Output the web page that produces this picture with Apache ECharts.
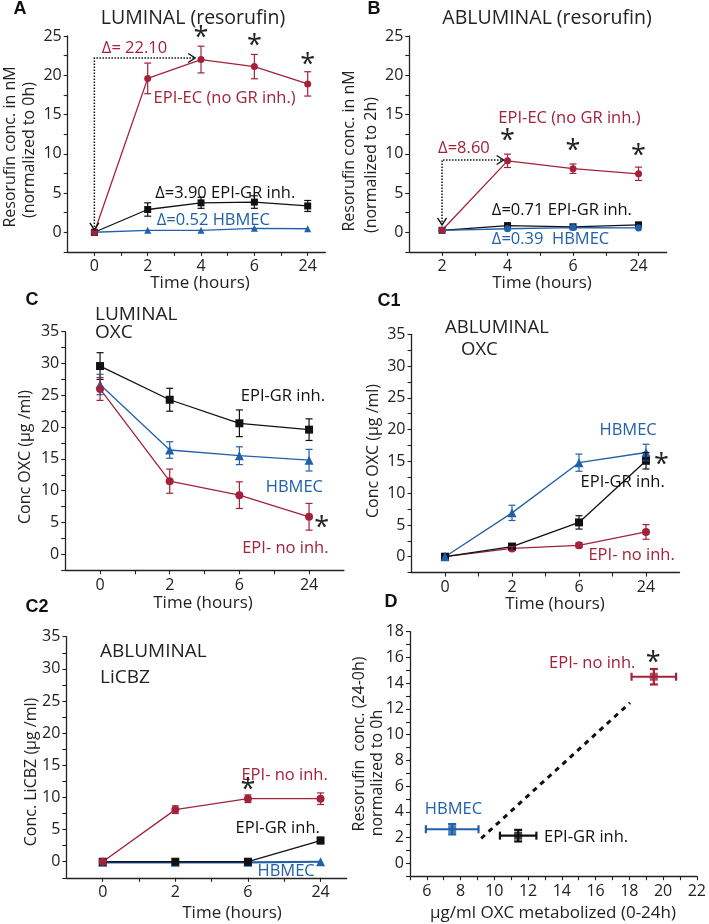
<!DOCTYPE html>
<html><head><meta charset="utf-8">
<script src="https://cdn.jsdelivr.net/npm/echarts@6/dist/echarts.min.js"></script>
<style>html,body{margin:0;padding:0;background:#fff}#c{width:709px;height:924px}</style>
</head><body><div id="c"></div>
<script>
// ---------- DATA ----------
// Panel A: LUMINAL resorufin (normalized to 0h)
const timesA = ['0', '2', '4', '6', '24'];
const A_epiEC = [0, 19.6, 22.0, 21.1, 18.9];
const A_epiECErr = [0, 1.95, 1.7, 1.55, 1.55];
const A_epiGR = [0, 2.9, 3.75, 3.85, 3.35];
const A_epiGRErr = [0, 0.85, 0.7, 0.8, 0.7];
const A_hbmec = [0, 0.25, 0.25, 0.5, 0.45];
// Panel B: ABLUMINAL resorufin (normalized to 2h)
const timesB = ['2', '4', '6', '24'];
const B_epiEC = [0.25, 9.1, 8.1, 7.45];
const B_epiECErr = [0, 0.85, 0.6, 0.85];
const B_epiGR = [0.25, 0.85, 0.7, 0.95];
const B_hbmec = [0.25, 0.45, 0.6, 0.55];
// Panel C: LUMINAL OXC
const timesC = ['0', '2', '6', '24'];
const C_epiGR = [29.6, 24.3, 20.6, 19.6];
const C_epiGRErr = [2.1, 1.8, 2.1, 1.7];
const C_hbmec = [26.7, 16.4, 15.5, 14.8];
const C_hbmecErr = [1.6, 1.3, 1.4, 1.7];
const C_epiNo = [26.0, 11.5, 9.3, 5.9];
const C_epiNoErr = [1.8, 1.9, 2.1, 2.1];
// Panel C1: ABLUMINAL OXC
const C1_hbmec = [0, 6.9, 14.8, 16.4];
const C1_hbmecErr = [0, 1.2, 1.35, 1.3];
const C1_epiGR = [0, 1.6, 5.4, 15.1];
const C1_epiGRErr = [0, 0.3, 1.05, 1.3];
const C1_epiNo = [0, 1.3, 1.8, 3.9];
const C1_epiNoErr = [0, 0.3, 0.4, 1.15];
// Panel C2: ABLUMINAL LiCBZ
const C2_epiNo = [0, 8.1, 9.8, 9.8];
const C2_epiNoErr = [0, 0.6, 0.6, 0.9];
const C2_epiGR = [0, 0, 0, 3.3];
const C2_epiGRErr = [0, 0, 0, 0.5];
const C2_hbmec = [-0.1, -0.1, -0.1, 0];
// Panel D: resorufin vs OXC metabolized
const D_names = ['HBMEC', 'EPI-GR inh.', 'EPI- no inh.'];
const D_oxc = [7.5, 11.41, 19.45];
const D_oxcErr = [1.56, 1.08, 1.32];
const D_res = [2.65, 2.15, 14.5];
const D_resErr = [0.4, 0.45, 0.6];
const D_fitX = [9.22, 18.04];
const D_fitY = [1.94, 12.48];

// ---------- STYLE ----------
const RED = '#a3223a', BLUE = '#2160aa', BLK = '#111111', TXT = '#222222';
const FONT = '"Open Sans", "DejaVu Sans", sans-serif';

const grids = [
  {left: 67.7, top: 36, width: 257.6, height: 215.9},     // A
  {left: 409.3, top: 36, width: 257.4, height: 215.9},    // B
  {left: 65.2, top: 331.7, width: 278.7, height: 238.5},  // C
  {left: 411.5, top: 334.3, width: 268.0, height: 238.3}, // C1
  {left: 66.4, top: 636.7, width: 280.3, height: 241.1},  // C2
  {left: 410, top: 631.7, width: 289, height: 244.5}      // D
];

function catAxis(gi, cats, max) {
  return {
    type: 'value', gridIndex: gi, min: -0.5, max: max, interval: 0.5,
    axisLine: {show: true, onZero: false, lineStyle: {color: '#222', width: 1.3}},
    axisTick: {show: true, length: 4, lineStyle: {color: '#222', width: 1.1}},
    splitLine: {show: false},
    axisLabel: {
      color: TXT, fontFamily: FONT, fontSize: 16, margin: 7,
      showMinLabel: false, showMaxLabel: false,
      formatter: v => (Math.abs(v - Math.round(v)) < 1e-6 && v >= 0 && v < cats.length) ? cats[Math.round(v)] : ''
    }
  };
}
function valAxis(gi, min, max, interval, every, isX) {
  return {
    type: 'value', gridIndex: gi, min: min, max: max, interval: interval,
    axisLine: {show: true, onZero: false, lineStyle: {color: '#222', width: 1.3}},
    axisTick: {show: true, length: 4, lineStyle: {color: '#222', width: 1.1}},
    splitLine: {show: false},
    axisLabel: {
      color: TXT, fontFamily: FONT, fontSize: 16, margin: isX ? 7 : 6,
      formatter: v => {
        const r = Math.round(v / every) * every;
        return (Math.abs(v - r) < 1e-6 && v >= 0) ? String(r) : '';
      }
    }
  };
}

const xAxes = [
  catAxis(0, timesA, 4.33),
  catAxis(1, timesB, 3.43),
  catAxis(2, timesC, 3.5),
  catAxis(3, timesC, 3.5),
  catAxis(4, timesC, 3.36),
  valAxis(5, 5, 22, 1, 2, true)
];
const yAxes = [
  valAxis(0, -2.5, 25, 2.5, 5),
  valAxis(1, -2.5, 25, 2.5, 5),
  valAxis(2, -2.5, 35, 2.5, 5),
  valAxis(3, -2.5, 35, 2.5, 5),
  valAxis(4, -2.5, 35, 2.5, 5),
  valAxis(5, -1, 18, 1, 2)
];

const series = [];
function idx(vals) { return vals.map((v, i) => [i, v]); }
function lineS(gi, vals, color, symbol, size, lw, z) {
  series.push({
    type: 'line', xAxisIndex: gi, yAxisIndex: gi, data: idx(vals),
    symbol: symbol, symbolSize: size, showSymbol: true, animation: false,
    lineStyle: {color: color, width: lw || 1.3},
    itemStyle: {color: color, borderWidth: 0}, z: z || 3, silent: true
  });
}
function errS(gi, xs, ys, errs, color, horiz, lw, cap) {
  const data = xs.map((x, i) => [x, ys[i], errs[i]]);
  series.push({
    type: 'custom', xAxisIndex: gi, yAxisIndex: gi, data: data, z: 4, silent: true, animation: false,
    encode: {x: 0, y: 1},
    renderItem: (params, api) => {
      const x = api.value(0), y = api.value(1), e = api.value(2);
      if (!e) return null;
      const st = {stroke: color, lineWidth: lw || 1.2, fill: null};
      const c = cap || 3.5;
      let p1, p2, children;
      if (horiz) {
        p1 = api.coord([x - e, y]); p2 = api.coord([x + e, y]);
        children = [
          {type: 'line', shape: {x1: p1[0], y1: p1[1], x2: p2[0], y2: p2[1]}, style: st},
          {type: 'line', shape: {x1: p1[0], y1: p1[1] - c, x2: p1[0], y2: p1[1] + c}, style: st},
          {type: 'line', shape: {x1: p2[0], y1: p2[1] - c, x2: p2[0], y2: p2[1] + c}, style: st}
        ];
      } else {
        p1 = api.coord([x, y - e]); p2 = api.coord([x, y + e]);
        children = [
          {type: 'line', shape: {x1: p1[0], y1: p1[1], x2: p2[0], y2: p2[1]}, style: st},
          {type: 'line', shape: {x1: p1[0] - c, y1: p1[1], x2: p1[0] + c, y2: p1[1]}, style: st},
          {type: 'line', shape: {x1: p2[0] - c, y1: p2[1], x2: p2[0] + c, y2: p2[1]}, style: st}
        ];
      }
      return {type: 'group', children: children};
    }
  });
}
function textS(gi, items) {
  series.push({
    type: 'custom', xAxisIndex: gi, yAxisIndex: gi, z: 10, silent: true, animation: false,
    data: items.map(it => [it.x, it.y]), encode: {x: 0, y: 1},
    renderItem: (params, api) => {
      const it = items[params.dataIndex];
      const p = api.coord([api.value(0), api.value(1)]);
      return {type: 'text', x: p[0], y: p[1] + (it.dy || 0), style: {
        text: it.t, fill: it.c || TXT, align: it.a || 'left', verticalAlign: 'middle',
        font: (it.w || 'normal') + ' ' + (it.s || 16.5) + 'px ' + FONT
      }};
    }
  });
}
function arrowS(gi, cx, cy, by, rx) {
  series.push({
    type: 'custom', xAxisIndex: gi, yAxisIndex: gi, z: 6, silent: true, animation: false,
    data: [[cx, cy, by, rx]], encode: {x: 0, y: 1},
    renderItem: (params, api) => {
      const c = api.coord([api.value(0), api.value(1)]);
      const b = api.coord([api.value(0), api.value(2)]);
      const r = api.coord([api.value(3), api.value(1)]);
      const dot = {stroke: '#111', lineWidth: 1.5, lineDash: [1.5, 1.5], fill: null};
      const sol = {stroke: '#111', lineWidth: 1.4, fill: null};
      return {type: 'group', children: [
        {type: 'polyline', shape: {points: [b, c, r]}, style: dot},
        {type: 'polyline', shape: {points: [[b[0] - 4.5, b[1] - 7], b, [b[0] + 4.5, b[1] - 7]]}, style: sol},
        {type: 'polyline', shape: {points: [[r[0] - 7, r[1] - 4.5], r, [r[0] - 7, r[1] + 4.5]]}, style: sol}
      ]};
    }
  });
}
const STAR = {t: '*', c: '#222', a: 'center', s: 27, dy: 5};

// ---- Panel A ----
lineS(0, A_hbmec, BLUE, 'triangle', 7);
lineS(0, A_epiGR, BLK, 'rect', 7);
lineS(0, A_epiEC, RED, 'circle', 7);
errS(0, [0, 1, 2, 3, 4], A_epiGR, A_epiGRErr, BLK);
errS(0, [0, 1, 2, 3, 4], A_epiEC, A_epiECErr, RED);
arrowS(0, 0, 22.2, 0.3, 1.89);
textS(0, [
  {x: 0.14, y: 23.44, t: 'Δ= 22.10', c: RED},
  {x: 1.11, y: 17.07, t: 'EPI-EC (no GR inh.)', c: RED},
  {x: 1.14, y: 4.97, t: 'Δ=3.90 EPI-GR inh.', c: BLK},
  {x: 1.17, y: 1.57, t: 'Δ=0.52 HBMEC', c: BLUE},
  Object.assign({x: 2, y: 25.35}, STAR),
  Object.assign({x: 3, y: 24.28}, STAR),
  Object.assign({x: 4, y: 21.9}, STAR)
]);

// ---- Panel B ----
lineS(1, B_epiGR, BLK, 'rect', 7);
lineS(1, B_hbmec, BLUE, 'circle', 7);
lineS(1, B_epiEC, RED, 'circle', 7);
errS(1, [0, 1, 2, 3], B_epiEC, B_epiECErr, RED);
arrowS(1, 0, 9.21, 0.93, 0.94);
textS(1, [
  {x: 0.86, y: 14.52, t: 'EPI-EC (no GR inh.)', c: RED},
  {x: -0.06, y: 10.7, t: 'Δ=8.60', c: RED},
  {x: 0.76, y: 2.75, t: 'Δ=0.71 EPI-GR inh.', c: BLK},
  {x: 0.76, y: -0.89, t: 'Δ=0.39  HBMEC', c: BLUE},
  Object.assign({x: 1, y: 12.18}, STAR),
  Object.assign({x: 2, y: 10.9}, STAR),
  Object.assign({x: 3, y: 10.27}, STAR)
]);

// ---- Panel C ----
lineS(2, C_epiGR, BLK, 'rect', 8);
lineS(2, C_hbmec, BLUE, 'triangle', 9);
lineS(2, C_epiNo, RED, 'circle', 8);
errS(2, [0, 1, 2, 3], C_epiGR, C_epiGRErr, BLK);
errS(2, [0, 1, 2, 3], C_hbmec, C_hbmecErr, BLUE);
errS(2, [0, 1, 2, 3], C_epiNo, C_epiNoErr, RED);
textS(2, [
  {x: 2.02, y: 24.8, t: 'EPI-GR inh.', c: BLK},
  {x: 3.2, y: 10.6, t: 'HBMEC', c: BLUE, a: 'right'},
  {x: 3.28, y: 0.94, t: 'EPI- no inh.', c: RED, a: 'right'},
  Object.assign({x: 3.18, y: 4.87}, STAR)
]);

// ---- Panel C1 ----
lineS(3, C1_epiNo, RED, 'circle', 8);
lineS(3, C1_epiGR, BLK, 'rect', 8);
lineS(3, C1_hbmec, BLUE, 'triangle', 9);
errS(3, [0, 1, 2, 3], C1_hbmec, C1_hbmecErr, BLUE);
errS(3, [0, 1, 2, 3], C1_epiGR, C1_epiGRErr, BLK);
errS(3, [0, 1, 2, 3], C1_epiNo, C1_epiNoErr, RED);
textS(3, [
  {x: 3.16, y: 19.94, t: 'HBMEC', c: BLUE, a: 'right'},
  {x: 3.28, y: 11.65, t: 'EPI-GR inh.', c: BLK, a: 'right'},
  Object.assign({x: 3.23, y: 15.2}, STAR),
  {x: 3.43, y: 0.27, t: 'EPI- no inh.', c: RED, a: 'right'}
]);

// ---- Panel C2 ----
lineS(4, C2_hbmec, BLUE, 'triangle', 9, 2.2);
lineS(4, C2_epiGR, BLK, 'rect', 8);
lineS(4, C2_epiNo, RED, 'circle', 8);
errS(4, [0, 1, 2, 3], C2_epiNo, C2_epiNoErr, RED);
errS(4, [0, 1, 2, 3], C2_epiGR, C2_epiGRErr, BLK);
textS(4, [
  {x: 3.1, y: 13.48, t: 'EPI- no inh.', c: RED, a: 'right'},
  Object.assign({x: 2.0, y: 11.93}, STAR),
  {x: 2.99, y: 5.19, t: 'EPI-GR inh.', c: BLK, a: 'right'},
  {x: 2.92, y: -1.56, t: 'HBMEC', c: BLUE, a: 'right'}
]);

// ---- Panel D ----
series.push({
  type: 'line', xAxisIndex: 5, yAxisIndex: 5, data: D_fitX.map((x, i) => [x, D_fitY[i]]),
  symbol: 'none', lineStyle: {color: '#111', width: 3, type: [5, 5]}, z: 2, silent: true, animation: false
});
const D_colors = [BLUE, BLK, RED];
D_colors.forEach((col, i) => {
  errS(5, [D_oxc[i]], [D_res[i]], [D_oxcErr[i]], col, true, 2.2, 4);
  errS(5, [D_oxc[i]], [D_res[i]], [D_resErr[i]], col, false, 2.2, 4);
  series.push({
    type: 'scatter', xAxisIndex: 5, yAxisIndex: 5, data: [[D_oxc[i], D_res[i]]], name: D_names[i],
    symbol: 'rect', symbolSize: 8, itemStyle: {color: col}, z: 5, silent: true, animation: false
  });
});
textS(5, [
  {x: 5.88, y: 4.2, t: 'HBMEC', c: BLUE},
  {x: 12.94, y: 2.02, t: 'EPI-GR inh.', c: BLK},
  {x: 13.24, y: 15.54, t: 'EPI- no inh.', c: RED},
  Object.assign({x: 19.41, y: 15.93}, STAR)
]);

// ---------- TEXT (titles, axis names, panel letters) ----------
function gt(x, y, text, opts) {
  opts = opts || {};
  return {
    type: 'text', x: x, y: y, rotation: opts.rot ? Math.PI / 2 : 0, silent: true, z: 20,
    style: {
      text: text, fill: opts.c || TXT, align: opts.a || 'center', verticalAlign: 'middle',
      font: (opts.w || 'normal') + ' ' + (opts.s || 16) + 'px ' + (opts.f || FONT)
    }
  };
}
const LET = {w: 'bold', s: 18, f: '"Liberation Sans", Arial, sans-serif', c: '#111'};
const graphics = [
  gt(20, 9, 'A', LET), gt(374, 9, 'B', LET), gt(32, 300, 'C', LET),
  gt(389, 301, 'C1', LET), gt(37, 607, 'C2', LET), gt(391, 602, 'D', LET),
  gt(193, 18, 'LUMINAL (resorufin)', {s: 19.5}),
  gt(547, 18, 'ABLUMINAL (resorufin)', {s: 19.5}),
  gt(95, 315, 'LUMINAL', {s: 19, a: 'left'}), gt(95, 333, 'OXC', {s: 19, a: 'left'}),
  gt(445, 328, 'ABLUMINAL', {s: 18.5, a: 'left'}), gt(461, 350, 'OXC', {s: 18.5, a: 'left'}),
  gt(100, 652, 'ABLUMINAL', {s: 19, a: 'left'}), gt(100, 678, 'LiCBZ', {s: 19, a: 'left'}),
  gt(10, 147, 'Resorufin conc. in nM', {rot: 1}),
  gt(29, 150, '(normalized to 0h)', {rot: 1}),
  gt(349, 151, 'Resorufin conc. in nM', {rot: 1}),
  gt(371, 165, '(normalized to 2h)', {rot: 1}),
  gt(25, 457, 'Conc OXC (μg /ml)', {rot: 1}),
  gt(373, 451, 'Conc OXC (μg /ml)', {rot: 1}),
  gt(31, 772, 'Conc. LiCBZ (μg /ml)', {rot: 1}),
  gt(359, 744, 'Resorufin  conc. (24-0h)', {rot: 1}),
  gt(377, 773, 'normalized to 0h', {rot: 1}),
  gt(200, 283, 'Time (hours)', {s: 17}),
  gt(542, 283, 'Time (hours)', {s: 17}),
  gt(203, 603, 'Time (hours)', {s: 17}),
  gt(555, 604, 'Time (hours)', {s: 17}),
  gt(232, 913, 'Time (hours)', {s: 17}),
  gt(553, 913, 'μg/ml OXC metabolized (0-24h)', {s: 17})
];

const chart = echarts.init(document.getElementById('c'), null, {renderer: 'canvas'});
chart.setOption({
  animation: false,
  backgroundColor: '#ffffff',
  grid: grids.map(g => Object.assign({containLabel: false}, g)),
  xAxis: xAxes,
  yAxis: yAxes,
  series: series,
  graphic: graphics
});
</script>
</body></html>
